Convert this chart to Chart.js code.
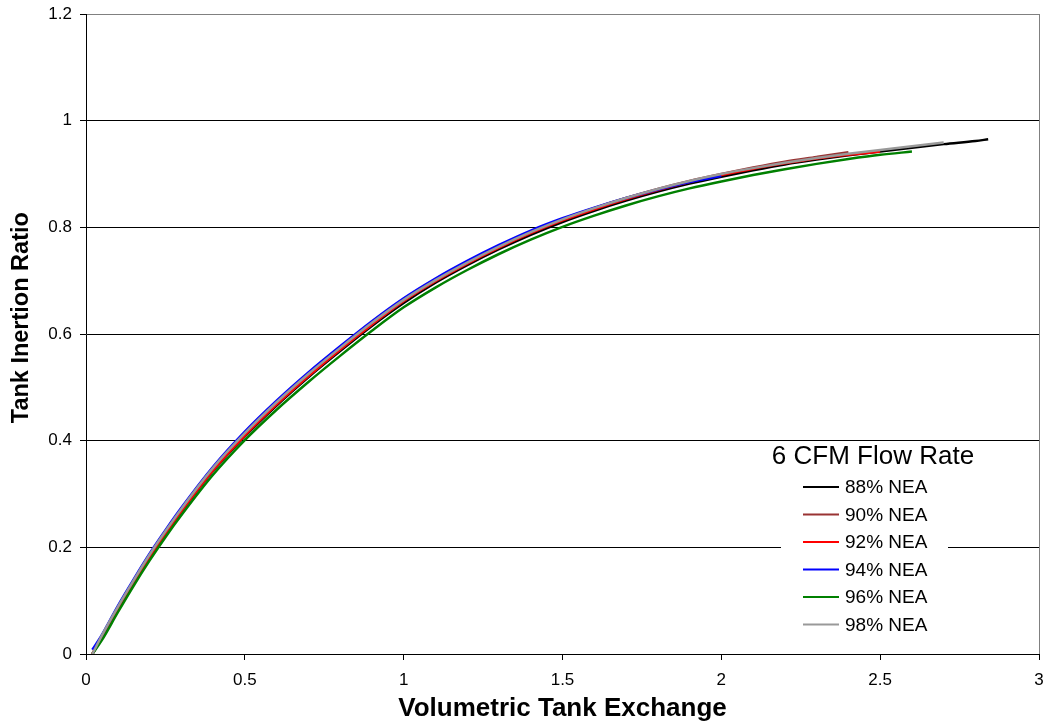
<!DOCTYPE html>
<html>
<head>
<meta charset="utf-8">
<script src="https://cdn.jsdelivr.net/npm/chart.js@4.4.1/dist/chart.umd.min.js"></script>
<style>
  html, body { margin: 0; padding: 0; background: #fff; }
  #wrap { width: 1044px; height: 728px; position: relative; }
</style>
</head>
<body>
<div id="wrap"><canvas id="tankchart"></canvas></div>
<script>
// volumetric tank exchange (x), shared by all series
const tankExchange = [0.02, 0.05, 0.1, 0.15, 0.2, 0.25, 0.3, 0.4, 0.5, 0.6, 0.7, 0.8, 0.9, 1.0,
  1.1, 1.2, 1.3, 1.4, 1.5, 1.6, 1.7, 1.8, 1.9, 2.0, 2.1, 2.2, 2.3, 2.4, 2.5, 2.6, 2.7, 2.8, 2.84];

// tank inertion ratio per NEA purity (null = no reading)
const nea88 = [0, 0.031, 0.084, 0.133, 0.181, 0.225, 0.266, 0.343, 0.408, 0.466, 0.519, 0.568, 0.615, 0.658,
  0.696, 0.729, 0.759, 0.786, 0.81, 0.831, 0.85, 0.867, 0.882, 0.895, 0.907, 0.918, 0.927, 0.935, 0.942, 0.949, 0.956, 0.962, 0.965];
const nea90 = [0, 0.03, 0.083, 0.133, 0.18, 0.225, 0.267, 0.344, 0.41, 0.468, 0.521, 0.571, 0.618, 0.662,
  0.7, 0.733, 0.763, 0.79, 0.815, 0.836, 0.855, 0.872, 0.887, 0.9, 0.912, 0.923, 0.932, 0.941, null, null, null, null, null];
const nea92 = [0, 0.033, 0.085, 0.135, 0.182, 0.226, 0.268, 0.345, 0.41, 0.468, 0.521, 0.571, 0.618, 0.662,
  0.699, 0.732, 0.762, 0.789, 0.813, 0.834, 0.853, 0.87, 0.885, 0.898, 0.91, 0.92, 0.929, 0.936, 0.942, null, null, null, null];
const nea94 = [0.008, 0.036, 0.09, 0.14, 0.188, 0.232, 0.274, 0.351, 0.417, 0.475, 0.528, 0.577, 0.624, 0.667,
  0.704, 0.737, 0.767, 0.794, 0.817, 0.837, 0.855, 0.871, 0.885, 0.896, null, null, null, null, null, null, null, null, null];
const nea96 = [0, 0.026, 0.078, 0.128, 0.175, 0.219, 0.26, 0.336, 0.401, 0.458, 0.51, 0.559, 0.606, 0.65,
  0.687, 0.72, 0.75, 0.777, 0.801, 0.822, 0.841, 0.858, 0.873, 0.886, 0.898, 0.909, 0.919, 0.928, 0.936, 0.942, null, null, null];
const nea98 = [0, 0.035, 0.088, 0.138, 0.186, 0.23, 0.272, 0.349, 0.414, 0.472, 0.525, 0.574, 0.621, 0.664,
  0.701, 0.734, 0.764, 0.791, 0.815, 0.836, 0.855, 0.872, 0.887, 0.9, 0.911, 0.921, 0.93, 0.938, 0.945, 0.952, 0.959, null, null];

const seriesLabels = ['88% NEA', '90% NEA', '92% NEA', '94% NEA', '96% NEA', '98% NEA'];
const seriesValues = [nea88, nea90, nea92, nea94, nea96, nea98];
const seriesColors = ['#000000', '#993333', '#ff0000', '#0000ff', '#008000', '#999999'];
const legendTitle = '6 CFM Flow Rate';

const FONT = "'Liberation Sans', Arial, Helvetica, sans-serif";

const datasets = seriesValues.map((vals, i) => ({
  label: seriesLabels[i],
  data: tankExchange.map((x, j) => ({ x: x, y: vals[j] })),
  borderColor: seriesColors[i],
  backgroundColor: seriesColors[i],
  borderWidth: 2.5,
  pointRadius: 0,
  fill: false,
  cubicInterpolationMode: 'monotone',
  order: seriesValues.length - i
}));

// plain number labels: 0, 0.5, 1 ...
const plainTick = (v) => String(Number(v.toFixed(2)));

// legend box drawn inside the plot, lower right
const insideLegend = {
  id: 'insideLegend',
  afterDraw(chart) {
    const ctx = chart.ctx;
    const ca = chart.chartArea;
    const boxL = ca.right - 258, boxR = ca.right - 91;
    const boxT = ca.bottom - 211, boxB = ca.bottom - 9;
    ctx.save();
    ctx.fillStyle = '#fff';
    ctx.fillRect(boxL, boxT, boxR - boxL, boxB - boxT);

    ctx.fillStyle = '#000';
    ctx.textBaseline = 'middle';
    ctx.textAlign = 'center';
    ctx.font = '26px ' + FONT;
    ctx.fillText(legendTitle, boxL + 92, boxT + 14);

    ctx.textAlign = 'left';
    ctx.font = '19px ' + FONT;
    chart.data.datasets.forEach((ds, i) => {
      const y = boxT + 44 + i * 27.5;
      ctx.strokeStyle = ds.borderColor;
      ctx.lineWidth = 2;
      ctx.beginPath();
      ctx.moveTo(boxL + 22, y);
      ctx.lineTo(boxL + 58, y);
      ctx.stroke();
      ctx.fillStyle = '#000';
      ctx.fillText(ds.label, boxL + 64, y + 1);
    });
    ctx.restore();
  }
};

new Chart(document.getElementById('tankchart'), {
  type: 'line',
  data: { datasets: datasets },
  options: {
    responsive: true,
    maintainAspectRatio: false,
    animation: false,
    layout: { padding: { left: 0, top: 14, right: 5, bottom: 0 } },
    plugins: {
      legend: { display: false },
      tooltip: { enabled: false }
    },
    scales: {
      x: {
        type: 'linear',
        min: 0,
        max: 3,
        ticks: {
          stepSize: 0.5,
          color: '#000',
          padding: 0,
          maxRotation: 0,
          callback: plainTick,
          font: { family: FONT, size: 17, lineHeight: '40px' }
        },
        grid: {
          color: (c) => c.tick && c.tick.value === 3 ? '#808080' : 'rgba(0,0,0,0)',
          tickColor: '#000',
          tickLength: 6
        },
        border: { display: true, color: '#000', width: 1 },
        title: {
          display: true,
          text: 'Volumetric Tank Exchange',
          color: '#000',
          padding: { top: 0, bottom: 4 },
          font: { family: FONT, size: 26, weight: 'bold' }
        },
        afterFit: (s) => { s.height = 74; }
      },
      y: {
        min: 0,
        max: 1.2,
        ticks: {
          stepSize: 0.2,
          color: '#000',
          padding: 8,
          callback: plainTick,
          font: { family: FONT, size: 17, lineHeight: '12px' }
        },
        grid: {
          color: (c) => c.tick && c.tick.value > 1.1 ? '#808080' : '#000',
          tickColor: '#000',
          tickLength: 6
        },
        border: { display: true, color: '#000', width: 1 },
        title: {
          display: true,
          text: '     Tank Inertion Ratio',
          color: '#000',
          padding: { top: 7, bottom: 0 },
          font: { family: FONT, size: 23.5, weight: 'bold' }
        },
        afterFit: (s) => { s.width = 86; }
      }
    }
  },
  plugins: [insideLegend]
});
</script>
</body>
</html>
